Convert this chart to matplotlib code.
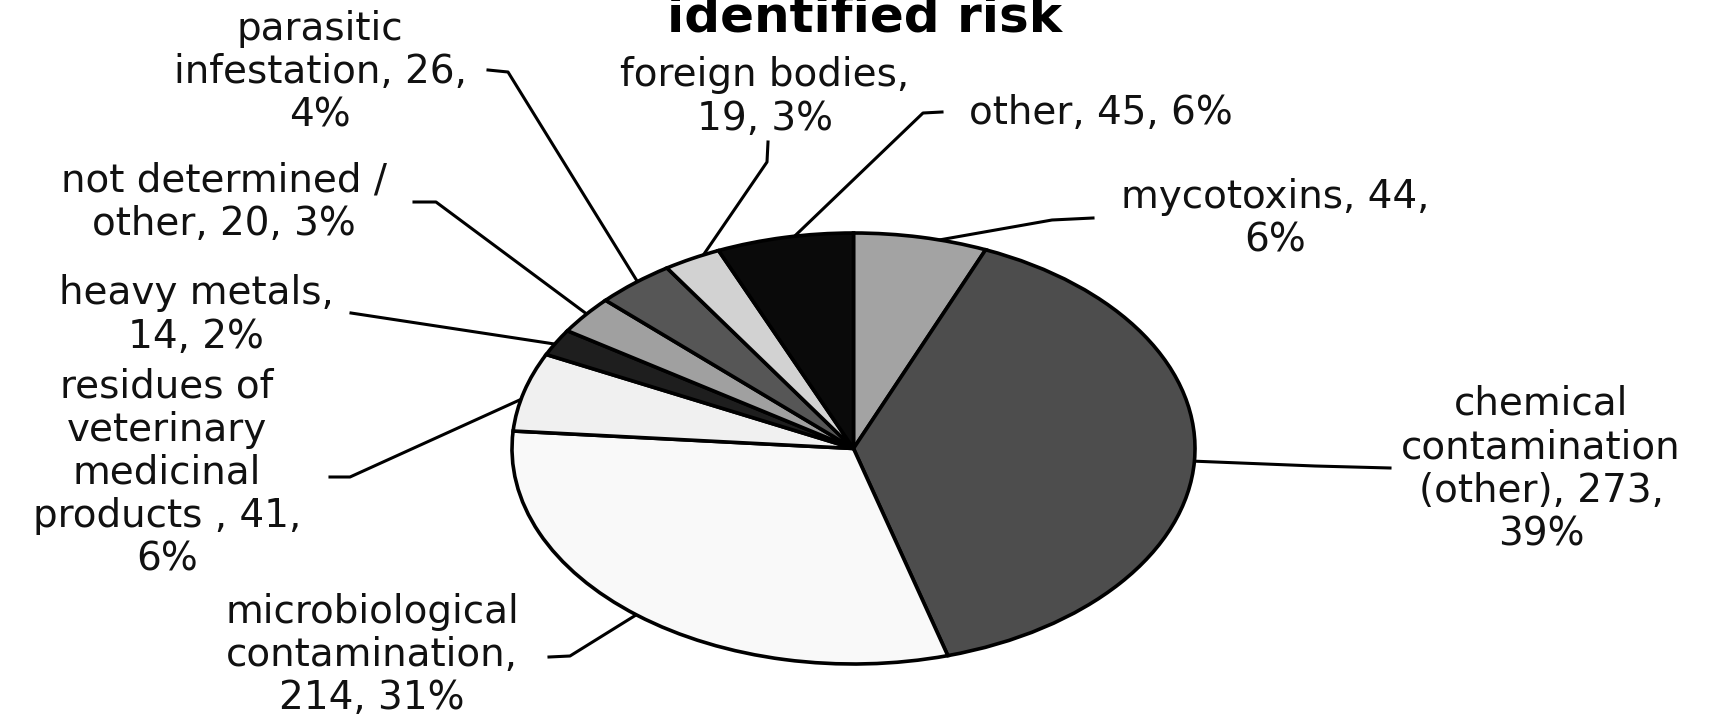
import matplotlib
matplotlib.use("Agg")
import matplotlib.pyplot as plt
import numpy as np

# data (clockwise from 12 o'clock)
labels = ["mycotoxins, 44,\n6%",
          "chemical\ncontamination\n(other), 273,\n39%",
          "microbiological\ncontamination,\n214, 31%",
          "residues of\nveterinary\nmedicinal\nproducts , 41,\n6%",
          "heavy metals,\n14, 2%",
          "not determined /\nother, 20, 3%",
          "parasitic\ninfestation, 26,\n4%",
          "foreign bodies,\n19, 3%",
          "other, 45, 6%"]
counts = [44, 273, 214, 41, 14, 20, 26, 19, 45]
colors = ["#a3a3a3", "#4d4d4d", "#f9f9f9", "#f0f0f0", "#1e1e1e",
          "#a0a0a0", "#565656", "#d2d2d2", "#0a0a0a"]

# label block centres and leader start/knee points, in pixels from top-left
label_xy = [(1275, 219), (1541, 469), (372, 655), (167, 473), (196, 315),
            (224, 202), (320, 72), (765, 97), (1101, 113)]
leaders = [[(1093, 218), (1052, 220)],
           [(1390, 468), (1315, 466)],
           [(549, 657), (570, 656)],
           [(330, 477), (350, 477)],
           [(351, 313)],
           [(414, 202), (436, 202)],
           [(488, 70), (508, 72)],
           [(768, 142), (767, 162)],
           [(942, 112), (923, 113)]]

plt.rcParams['font.family'] = ['DejaVu Sans']

W, H = 1713, 720
fig = plt.figure(figsize=(W / 100, H / 100), dpi=100)

lay = fig.add_axes([0, 0, 1, 1])
lay.set_xlim(0, W)
lay.set_ylim(H, 0)
lay.axis('off')

# pie is stretched into an ellipse
left, right, top, bottom = 512, 1195, 233, 664
ax = fig.add_axes([left / W, 1 - bottom / H, (right - left) / W, (bottom - top) / H])
wedges, _ = ax.pie(counts, colors=colors, startangle=90, counterclock=False,
                   wedgeprops=dict(edgecolor='black', linewidth=2.6))
ax.set_aspect('auto')
ax.set_xlim(-1, 1)
ax.set_ylim(-1, 1)
for w in wedges:
    w.set_clip_on(False)

inv = lay.transData.inverted()
for w, lab, (tx, ty), pts in zip(wedges, labels, label_xy, leaders):
    mid = np.deg2rad((w.theta1 + w.theta2) / 2)
    end = inv.transform(ax.transData.transform((0.97 * np.cos(mid), 0.97 * np.sin(mid))))
    xs = [p[0] for p in pts] + [end[0]]
    ys = [p[1] for p in pts] + [end[1]]
    lay.plot(xs, ys, color='black', lw=2.2)
    lay.text(tx, ty, lab, ha='center', va='center', multialignment='center',
             fontsize=28, linespacing=1.18, color='#111111')

lay.text(865, 31, "identified risk", ha='center', va='baseline',
         fontsize=36, fontweight='bold', color='black')

fig.savefig("out.png", dpi=100)
